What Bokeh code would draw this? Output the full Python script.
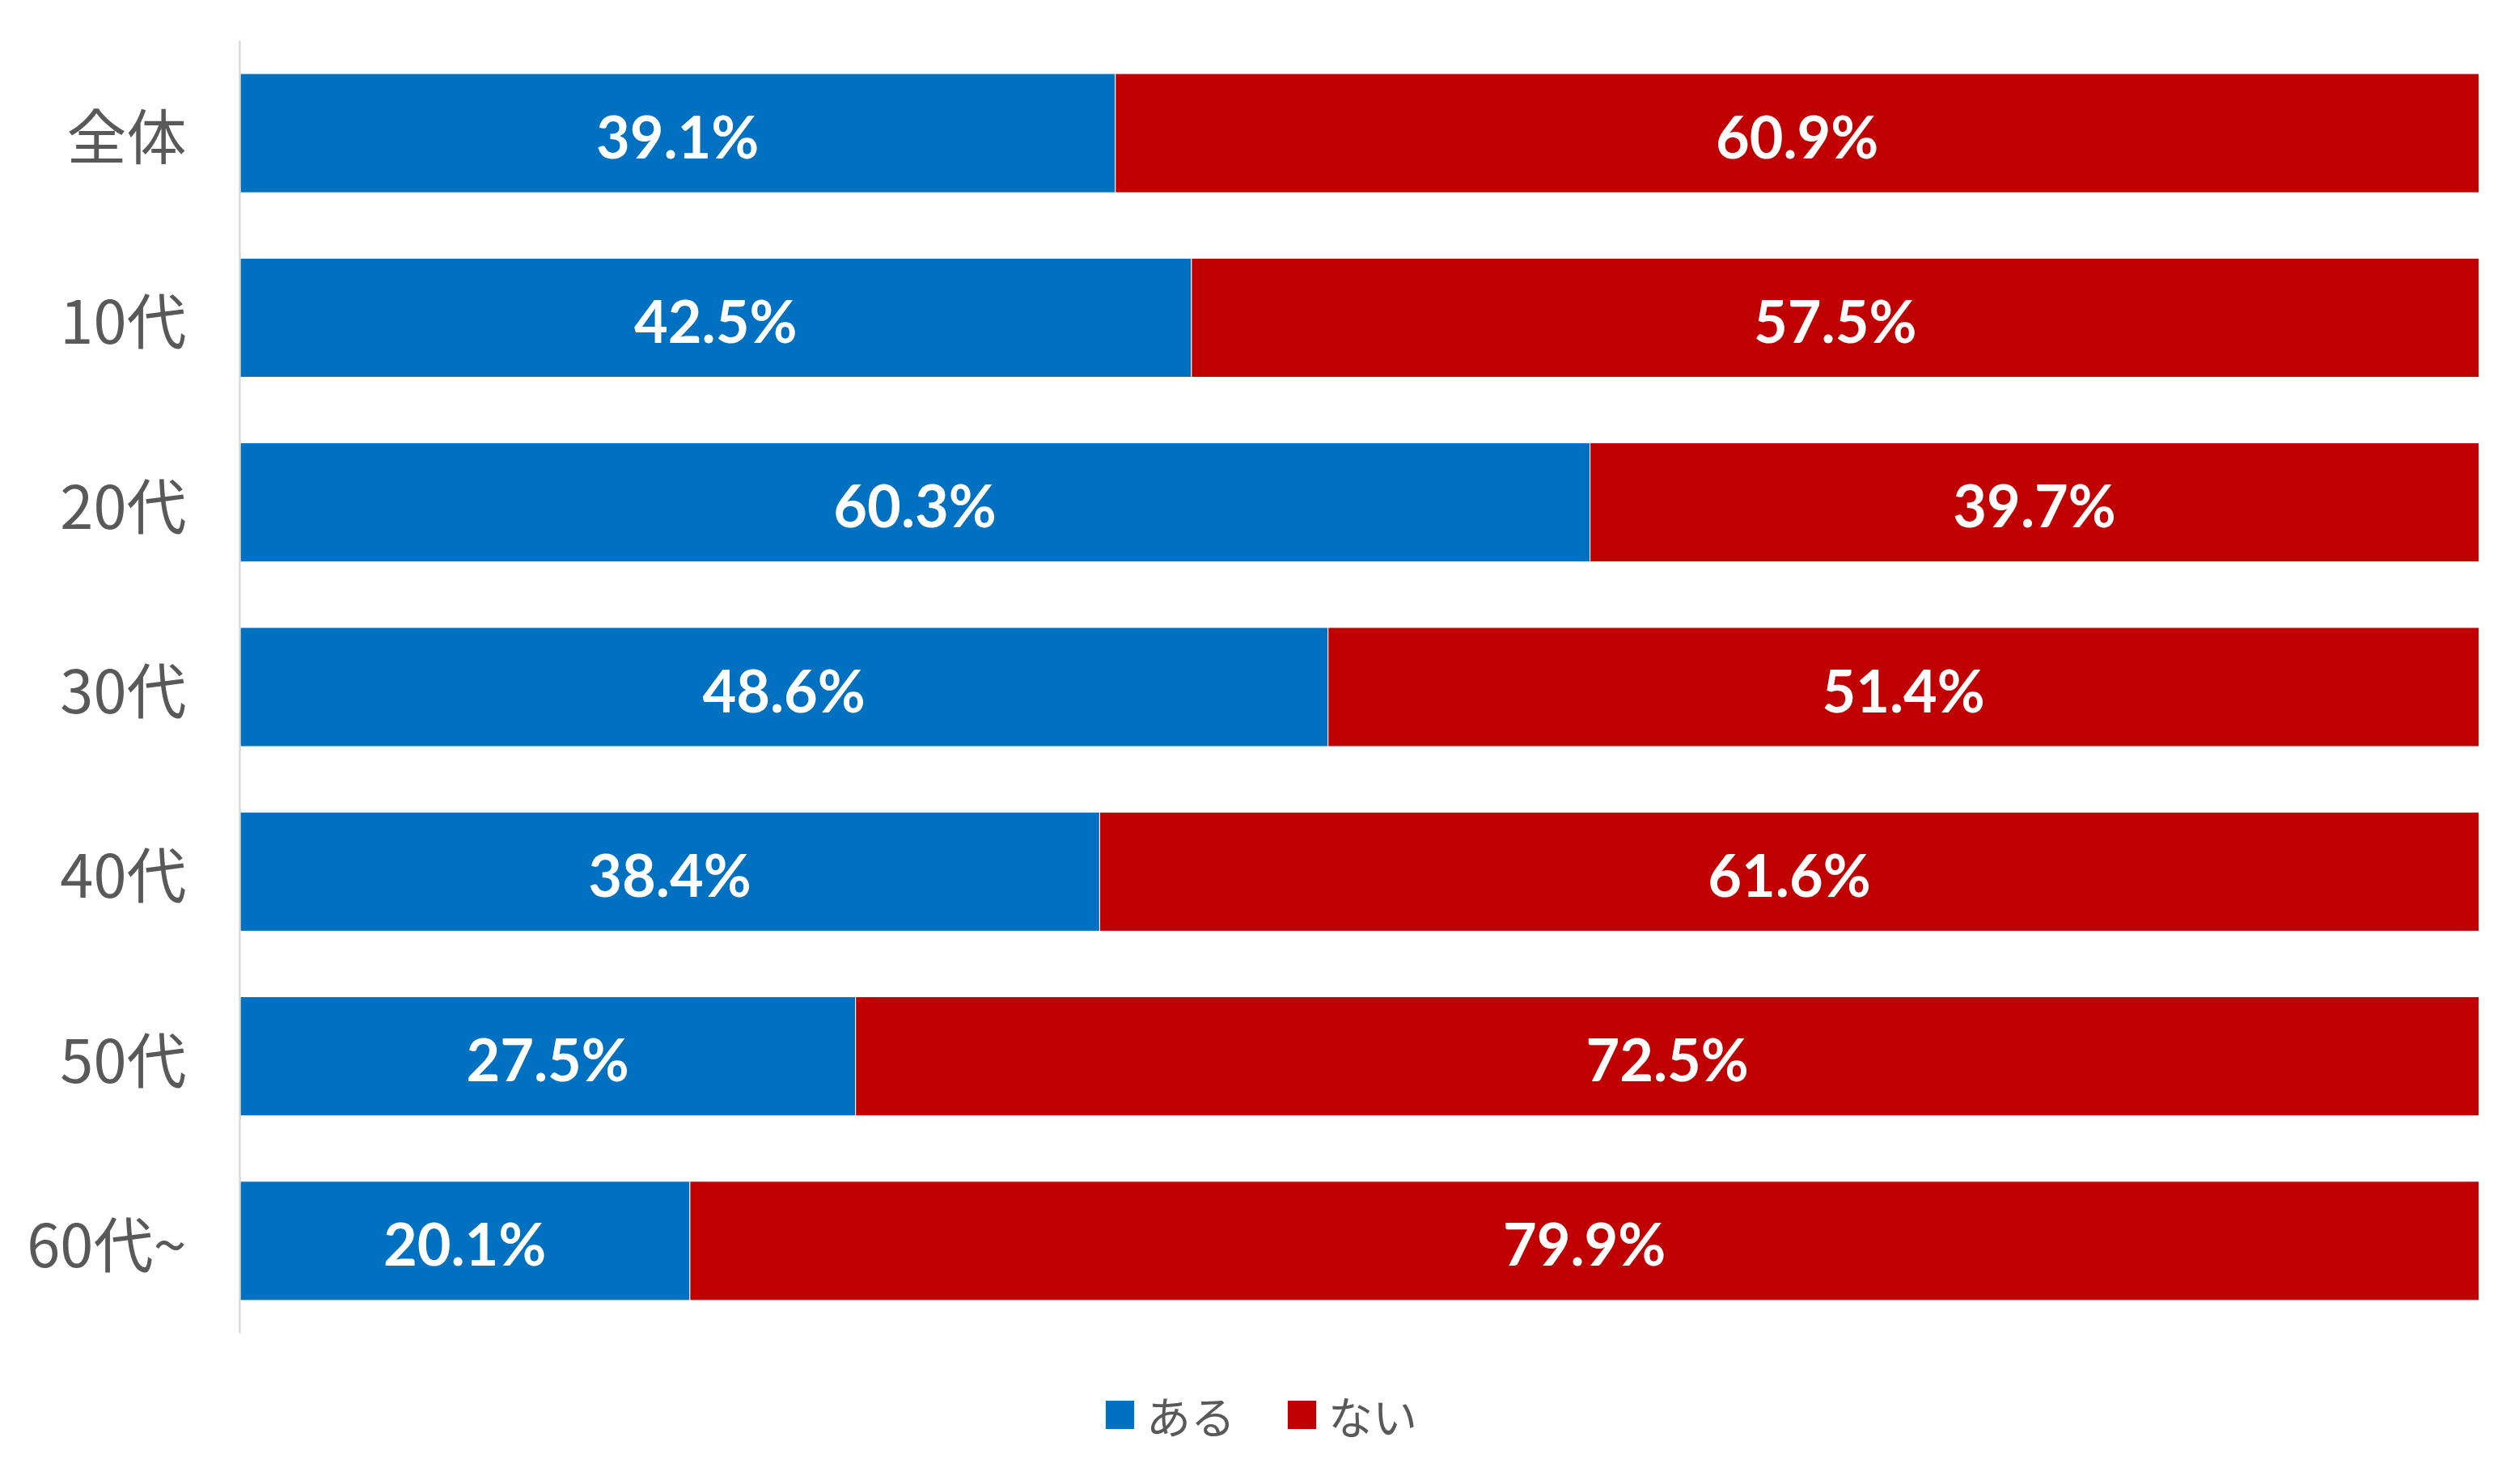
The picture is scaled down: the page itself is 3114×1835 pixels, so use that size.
from bokeh.plotting import figure
from bokeh.layouts import column
from bokeh.models import FactorRange, Range1d, ColumnDataSource, Legend, LegendItem
from bokeh.core.properties import value
from bokeh.embed import file_html
from bokeh.resources import INLINE

# Survey results by age group (percent)
categories = ["全体", "10代", "20代", "30代", "40代", "50代", "60代~"]
aru = [39.1, 42.5, 60.3, 48.6, 38.4, 27.5, 20.1]
nai = [60.9, 57.5, 39.7, 51.4, 61.6, 72.5, 79.9]
series_names = ["ある", "ない"]

BLUE = "#0070C0"
RED = "#C00000"
GREY = "#595959"

src = ColumnDataSource(data=dict(
    cat=categories,
    zero=[0] * len(categories),
    aru_end=list(aru),
    nai_end=[a + n for a, n in zip(aru, nai)],
    aru_mid=[a / 2 for a in aru],
    nai_mid=[a + n / 2 for a, n in zip(aru, nai)],
    aru_lbl=[f"{a:.1f}%" for a in aru],
    nai_lbl=[f"{n:.1f}%" for n in nai],
))

W = 3114
p = figure(
    width=W, height=1700,
    y_range=FactorRange(factors=list(reversed(categories)), range_padding=0),
    x_range=Range1d(0, 100),
    x_axis_location=None,
    output_backend="svg",
    toolbar_location=None,
    min_border_left=296, min_border_right=50,
    min_border_top=50, min_border_bottom=52,
)
p.outline_line_color = None
p.xgrid.visible = False
p.ygrid.visible = False
p.background_fill_color = "white"
p.border_fill_color = "white"

BAR_H = 0.645
p.hbar(y="cat", left="zero", right="aru_end", height=BAR_H, source=src,
       fill_color=BLUE, line_color="white", line_width=1)
p.hbar(y="cat", left="aru_end", right="nai_end", height=BAR_H, source=src,
       fill_color=RED, line_color="white", line_width=1)

lbl_kw = dict(text_color="white", text_font=value("Lato"), text_font_style="bold",
              text_font_size="72px", text_align="center", text_baseline="middle")
p.text(x="aru_mid", y="cat", text="aru_lbl", source=src, y_offset=3, **lbl_kw)
p.text(x="nai_mid", y="cat", text="nai_lbl", source=src, y_offset=3, **lbl_kw)

ax = p.yaxis[0]
ax.axis_line_color = "#D9D9D9"
ax.axis_line_width = 2.5
ax.major_tick_line_color = None
ax.minor_tick_line_color = None
ax.major_tick_out = 0
ax.major_tick_in = 0
ax.major_label_standoff = 66
ax.major_label_text_font = "Noto Sans CJK JP"
ax.major_label_text_font_size = "74px"
ax.major_label_text_color = GREY

# Legend strip underneath the bars; key swatches sit outside the visible range
lp = figure(
    width=W, height=106,
    x_range=Range1d(0, 1), y_range=Range1d(0, 1),
    x_axis_location=None, y_axis_location=None,
    output_backend="svg", toolbar_location=None,
    min_border_left=296, min_border_right=50, min_border_top=0, min_border_bottom=0,
)
lp.outline_line_color = None
lp.xgrid.visible = False
lp.ygrid.visible = False
key_aru = lp.hbar(y=[-5], left=[0], right=[1], height=0.1, fill_color=BLUE, line_color=None)
key_nai = lp.hbar(y=[-5], left=[0], right=[1], height=0.1, fill_color=RED, line_color=None)

legend = Legend(
    items=[LegendItem(label=series_names[0], renderers=[key_aru]),
           LegendItem(label=series_names[1], renderers=[key_nai])],
    orientation="horizontal",
    location=(1066, 17),
    border_line_color=None,
    background_fill_alpha=0,
    padding=0, margin=0,
    glyph_width=44, glyph_height=44,
    label_standoff=11, spacing=60,
    label_text_font="Noto Sans CJK JP",
    label_text_font_size="55px",
    label_text_color=GREY,
)
lp.add_layout(legend, "center")

layout = column(p, lp, spacing=0)
open("out.html", "w").write(file_html(layout, INLINE))
